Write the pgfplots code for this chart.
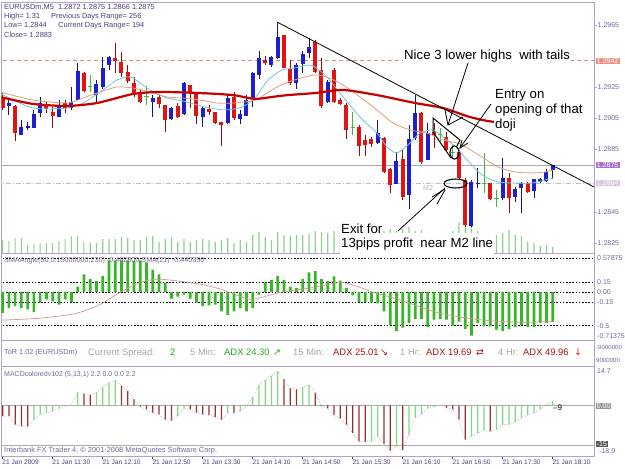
\documentclass[border=0pt]{standalone}
\usepackage{pgfplots}
\pgfplotsset{compat=1.18}
\usepackage{pgfplotstable}
\usepackage{fontspec}
\setmainfont{Liberation Sans}
\newfontfamily\symfont{DejaVu Sans}
\definecolor{bluec}{RGB}{30,30,205}
\definecolor{bluew}{RGB}{20,20,110}
\definecolor{redc}{RGB}{225,20,20}
\definecolor{redw}{RGB}{150,10,10}
\definecolor{dojic}{RGB}{60,185,60}
\definecolor{cyanc}{RGB}{110,200,215}
\definecolor{tanc}{RGB}{222,160,120}
\definecolor{maredc}{RGB}{200,0,0}
\definecolor{volc}{RGB}{140,210,140}
\definecolor{smac}{RGB}{55,180,40}
\definecolor{smaline}{RGB}{210,150,140}
\definecolor{macdg}{RGB}{130,215,130}
\definecolor{macdr}{RGB}{150,50,50}
\definecolor{framec}{RGB}{180,160,205}
\definecolor{labc}{RGB}{120,100,150}
\definecolor{infoc}{RGB}{80,60,120}
\definecolor{grayt}{RGB}{165,165,165}
\definecolor{adxg}{RGB}{30,170,30}
\definecolor{adxr}{RGB}{165,20,20}

\pgfplotstableread{
x o h l c
1 1.29130 1.29181 1.29072 1.29149
3 1.28944 1.29040 1.28944 1.28995
4 1.28989 1.29027 1.28976 1.29001
5 1.28989 1.29104 1.28989 1.29078
6 1.29085 1.29188 1.29059 1.29149
9 1.29059 1.29168 1.29059 1.29130
11 1.29117 1.29252 1.29104 1.29156
12 1.29168 1.29406 1.29168 1.29355
15 1.29201 1.29297 1.29156 1.29271
16 1.29252 1.29445 1.29239 1.29374
17 1.29393 1.29451 1.29361 1.29445
24 1.29156 1.29201 1.29059 1.29181
27 1.29046 1.29123 1.29040 1.29117
29 1.29078 1.29284 1.29072 1.29278
32 1.29059 1.29130 1.28995 1.29117
36 1.29021 1.29201 1.29014 1.29181
38 1.29046 1.29104 1.29014 1.29078
39 1.29066 1.29201 1.29066 1.29168
40 1.29175 1.29348 1.29123 1.29342
41 1.29329 1.29483 1.29303 1.29438
43 1.29393 1.29451 1.29380 1.29445
44 1.29438 1.29669 1.29432 1.29573
47 1.29278 1.29406 1.29239 1.29393
48 1.29400 1.29483 1.29342 1.29464
49 1.29470 1.29567 1.29438 1.29509
52 1.29156 1.29297 1.29149 1.29284
60 1.28892 1.29040 1.28886 1.28957
63 1.28629 1.28834 1.28629 1.28777
65 1.28558 1.29008 1.28468 1.28918
66 1.28924 1.29201 1.28912 1.29085
68 1.28783 1.29021 1.28783 1.28957
75 1.28359 1.28655 1.28353 1.28642
76 1.28629 1.28732 1.28603 1.28635
80 1.28539 1.28796 1.28526 1.28667
82 1.28545 1.28610 1.28513 1.28597
83 1.28603 1.28642 1.28443 1.28635
85 1.28584 1.28660 1.28539 1.28660
86 1.28642 1.28667 1.28635 1.28660
87 1.28648 1.28725 1.28642 1.28706
88 1.28720 1.28750 1.28660 1.28750
}\bull

\pgfplotstableread{
x o h l c
0 1.29188 1.29213 1.29104 1.29117
2 1.29130 1.29136 1.28905 1.28957
7 1.29143 1.29156 1.29085 1.29111
8 1.29091 1.29123 1.28989 1.29066
10 1.29149 1.29168 1.29085 1.29117
13 1.29342 1.29348 1.29220 1.29226
18 1.29438 1.29535 1.29342 1.29419
19 1.29412 1.29477 1.29316 1.29342
20 1.29348 1.29393 1.29278 1.29290
21 1.29278 1.29316 1.29188 1.29213
22 1.29213 1.29233 1.29149 1.29156
25 1.29188 1.29201 1.29117 1.29143
26 1.29136 1.29136 1.28963 1.29040
28 1.29130 1.29149 1.29053 1.29059
30 1.29265 1.29265 1.29117 1.29213
31 1.29207 1.29220 1.29014 1.29066
33 1.29111 1.29136 1.29072 1.29091
34 1.29091 1.29091 1.29014 1.29021
35 1.29027 1.29027 1.28873 1.29008
37 1.29188 1.29220 1.29040 1.29053
42 1.29425 1.29451 1.29393 1.29406
45 1.29586 1.29586 1.29374 1.29374
46 1.29367 1.29425 1.29265 1.29278
50 1.29541 1.29554 1.29342 1.29348
51 1.29361 1.29438 1.29117 1.29130
53 1.29361 1.29374 1.29149 1.29156
54 1.29168 1.29181 1.29136 1.29143
55 1.29136 1.29149 1.28918 1.28976
57 1.28995 1.29008 1.28809 1.28873
58 1.28912 1.28944 1.28809 1.28879
59 1.28918 1.28931 1.28867 1.28886
61 1.28924 1.28931 1.28700 1.28706
62 1.28725 1.28732 1.28571 1.28623
64 1.28790 1.28847 1.28526 1.28545
67 1.29085 1.29091 1.28757 1.28770
69 1.28963 1.29021 1.28860 1.28944
71 1.28931 1.28963 1.28834 1.28847
73 1.28834 1.28834 1.28655 1.28667
74 1.28655 1.28667 1.28353 1.28366
78 1.28635 1.28635 1.28526 1.28533
81 1.28667 1.28700 1.28443 1.28539
84 1.28635 1.28642 1.28571 1.28578
}\bear

\pgfplotstableread{
x o h l c
14 1.29258 1.29329 1.29220 1.29258
23 1.29194 1.29258 1.29136 1.29194
56 1.28989 1.29091 1.28944 1.28989
70 1.28944 1.28989 1.28899 1.28944
72 1.28834 1.28879 1.28802 1.28834
77 1.28635 1.28828 1.28571 1.28635
79 1.28539 1.28590 1.28481 1.28539
}\doji

\pgfplotstableread{
x v
0 13
1 12
2 15
3 15
4 8
5 9
6 10
7 10
8 10
9 12
10 14
11 17
12 17
13 11
14 10
15 10
16 14
17 14
18 14
19 16
20 15
21 13
22 13
23 16
24 17
25 11
26 14
27 16
28 11
29 14
30 11
31 13
32 14
33 13
34 11
35 13
36 15
37 10
38 13
39 11
40 18
41 21
42 16
43 13
44 21
45 18
46 17
47 18
48 18
49 19
50 22
51 21
52 20
53 22
54 21
55 22
56 20
57 21
58 20
59 19
60 20
61 22
62 24
63 22
64 24
65 26
66 22
67 23
68 20
69 19
70 18
71 19
72 22
73 31
74 31
75 31
76 22
77 20
78 19
79 18
80 20
81 23
82 18
83 17
84 11
85 10
86 7
87 8
88 6
}\vol

\pgfplotstableread{
x v
0 -0.31
1 -0.24
2 -0.21
3 -0.24
4 -0.26
5 -0.30
6 -0.16
7 -0.11
8 -0.14
9 -0.19
10 -0.11
11 -0.15
12 0.08
13 0.26
14 0.19
15 0.16
16 0.24
17 0.47
18 0.47
19 0.47
20 0.47
21 0.46
22 0.47
23 0.44
24 0.33
25 0.26
26 0.13
27 -0.10
28 -0.07
29 -0.04
30 -0.10
31 -0.16
32 -0.21
33 -0.20
34 -0.19
35 -0.29
36 -0.34
37 -0.29
38 -0.24
39 -0.29
40 -0.24
41 -0.04
42 0.14
43 0.18
44 0.24
45 0.18
46 0.08
47 0.06
48 0.19
49 0.29
50 0.31
51 0.19
52 0.16
53 0.23
54 0.17
55 0.06
56 -0.05
57 -0.15
58 -0.15
59 -0.16
60 -0.17
61 -0.29
62 -0.49
63 -0.58
64 -0.53
65 -0.46
66 -0.40
67 -0.40
68 -0.52
69 -0.41
70 -0.40
71 -0.41
72 -0.50
73 -0.44
74 -0.55
75 -0.65
76 -0.46
77 -0.51
78 -0.51
79 -0.56
80 -0.58
81 -0.55
82 -0.52
83 -0.49
84 -0.52
85 -0.52
86 -0.46
87 -0.46
88 -0.45
}\smaang

\pgfplotstableread{
x v
0 -4.0
1 -4.0
2 -7.2
3 -7.8
4 -7.8
5 -5.3
6 -3.4
7 -2.8
8 -2.1
9 -1.1
10 -0.3
11 0.2
12 4.8
13 4.4
14 3.9
15 4.8
16 6.9
17 8.5
18 9.4
19 7.3
20 5.4
21 2.3
22 -0.5
23 -1.5
24 -2.8
25 -3.4
26 -5.3
27 -5.7
28 -4.0
29 -1.1
30 -1.5
31 -2.8
32 -3.4
33 -3.6
34 -4.4
35 -5.3
36 -2.8
37 -2.9
38 -2.1
39 -0.3
40 3.1
41 7.7
42 9.4
43 11.1
44 12.7
45 9.8
46 6.4
47 6.0
48 6.7
49 7.7
50 4.8
51 -0.3
52 -1.1
53 -3.6
54 -4.9
55 -7.2
56 -10.3
57 -13.4
58 -13.5
59 -13.4
60 -11.6
61 -14.4
62 -17.0
63 -15.3
64 -16.7
65 -10.9
66 -4.6
67 -3.4
68 -1.1
69 -0.5
70 0.1
71 -0.9
72 -1.5
73 -5.3
74 -12.8
75 -11.6
76 -10.3
77 -9.4
78 -9.7
79 -9.0
80 -7.2
81 -7.1
82 -6.2
83 -4.6
84 -3.6
85 -2.8
86 -1.5
87 0.1
88 1.6
}\macd

\begin{document}
\begin{tikzpicture}
\useasboundingbox (0,0) rectangle (625pt,-469pt);
\pgfplotsset{
  panel/.style={at={(1.5pt,#1)}, anchor=north west, scale only axis, width=592.5pt,
    xmin=-0.192, xmax=94.608, axis line style={draw=framec, line width=0.8pt}},
  wick/.style={draw=none, mark=none, forget plot, error bars/.cd, y dir=minus, y explicit, error mark=none,
    error bar style={line width=0.9pt, draw=#1}},
  body/.style={draw=none, mark=none, forget plot, error bars/.cd, y dir=minus, y explicit, error mark=none,
    error bar style={line width=4pt, draw=#1}},
}
% ---------- volumes ----------
\begin{axis}[panel={-2pt}, height=251pt, ymin=0, ymax=251, hide axis]
\addplot[ybar, bar width=1.1pt, bar shift=0pt, fill=volc, draw=none] table[x=x,y=v] {\vol};
\end{axis}
% ---------- main price chart ----------
\begin{axis}[panel={-2pt}, height=251pt, ymin=1.281858, ymax=1.297977,
  xtick=\empty, scaled y ticks=false,
  ytick={1.2825,1.2845,1.2885,1.2905,1.2925,1.2965},
  ytick pos=right, yticklabel pos=right, tick align=outside, major tick length=2.5pt,
  tick style={draw=framec, line width=0.6pt},
  yticklabel style={font=\fontsize{7}{8}\selectfont, text=labc, inner sep=1pt,
    /pgf/number format/.cd, fixed, fixed zerofill, precision=4, assume math mode=true}]
\addplot[draw={rgb,255:red,200;green,150;blue,130}, dash pattern=on 4pt off 3pt, line width=0.7pt] coordinates {(-1,1.2942) (96,1.2942)};
\addplot[draw={rgb,255:red,170;green,170;blue,170}, line width=0.8pt] coordinates {(-1,1.2875) (96,1.2875)};
\addplot[draw={rgb,255:red,190;green,190;blue,190}, dash pattern=on 5pt off 2pt on 1pt off 2pt, line width=0.7pt] coordinates {(-1,1.28635) (96,1.28635)};
% wicks
\addplot[wick=bluew] table[x=x, y=h, y error minus expr=\thisrow{h}-\thisrow{l}] {\bull};
\addplot[wick=redw] table[x=x, y=h, y error minus expr=\thisrow{h}-\thisrow{l}] {\bear};
\addplot[wick=dojic] table[x=x, y=h, y error minus expr=\thisrow{h}-\thisrow{l}] {\doji};
% bodies
\addplot[body=bluec] table[x=x, y=c, y error minus expr=\thisrow{c}-\thisrow{o}] {\bull};
\addplot[body=redc] table[x=x, y=o, y error minus expr=\thisrow{o}-\thisrow{c}] {\bear};
\addplot[only marks, mark=-, mark size=2.2pt, dojic, mark options={line width=0.9pt}] table[x=x, y=o] {\doji};
% moving averages
\addplot[cyanc, line width=0.8pt, smooth, tension=0.4] coordinates {
(-0.43,1.29213) (2.29,1.29156) (4.85,1.29117) (7.57,1.29111) (10.29,1.29117) (12.85,1.29149)
(15.57,1.29220) (18.29,1.29297) (19.89,1.29316) (20.85,1.29310) (23.57,1.29233) (26.29,1.29181)
(28.85,1.29162) (32.37,1.29123) (35.57,1.29104) (38.29,1.29123) (40.37,1.29181) (42.45,1.29297)
(44.69,1.29361) (46.77,1.29374) (48.85,1.29393) (49.97,1.29380) (51.89,1.29316) (54.45,1.29188)
(57.17,1.29059) (59.89,1.28956) (61.49,1.28867) (63.09,1.28828) (65.17,1.28892) (66.77,1.28956)
(68.85,1.28976) (70.45,1.28931) (72.69,1.28860) (74.29,1.28783) (76.69,1.28687) (79.25,1.28642)
(81.97,1.28635) (84.69,1.28635) (86.77,1.28655) (88.05,1.28667)};
\addplot[tanc, line width=0.8pt, smooth, tension=0.4] coordinates {
(-0.43,1.29220) (4.85,1.29168) (10.29,1.29149) (12.85,1.29181) (15.57,1.29220) (18.29,1.29252)
(20.85,1.29245) (23.57,1.29220) (26.29,1.29188) (28.85,1.29181) (31.57,1.29168) (34.29,1.29149)
(36.85,1.29149) (40.37,1.29168) (43.57,1.29245) (45.65,1.29284) (48.37,1.29316) (49.97,1.29329)
(51.89,1.29316) (54.45,1.29265) (57.17,1.29188) (59.89,1.29104) (62.45,1.29021) (65.17,1.28976)
(67.89,1.28956) (70.45,1.28911) (73.17,1.28886) (76.69,1.28802) (79.25,1.28738) (81.97,1.28706)
(84.69,1.28700) (86.77,1.28706) (88.05,1.28719)};
\addplot[maredc, line width=2.2pt, smooth, tension=0.4] coordinates {
(-0.43,1.29188) (4.85,1.29143) (10.29,1.29130) (15.09,1.29149) (20.85,1.29207) (25.17,1.29220)
(31.57,1.29213) (36.85,1.29200) (40.37,1.29175) (43.09,1.29188) (45.65,1.29200) (49.97,1.29213)
(54.45,1.29233) (59.89,1.29200) (65.97,1.29149) (70.45,1.29117) (74.77,1.29059) (78.77,1.29027)
(88.05,1.29001)};
\end{axis}
% ---------- SMAAngle panel ----------
\begin{axis}[panel={-253pt}, height=87pt, ymin=-0.71375, ymax=0.57875, xtick=\empty, ytick=\empty]
\foreach \lv in {0.5,0.15,0,-0.15,-0.5}{
  \edef\tmp{\noexpand\addplot[black, dash pattern=on 1.6pt off 1.6pt, line width=0.6pt] coordinates {(-1,\lv) (96,\lv)};}\tmp}
\addplot[ybar, bar width=2.6pt, bar shift=0pt, fill=smac, draw=none] table[x=x,y=v] {\smaang};
\addplot[smaline, line width=0.7pt, smooth, tension=0.4] coordinates {
(-0.43,-0.42) (5.94,-0.39) (11.68,-0.32) (15.5,-0.19) (18.7,-0.01) (21.9,0.14) (25.1,0.19)
(31.4,0.12) (35.3,0.03) (39.7,-0.11) (44.2,-0.01) (49.3,0.06) (54.4,0.14) (59.5,-0.01)
(63.3,-0.11) (69.7,-0.31) (76.1,-0.41) (82.4,-0.45) (88,-0.44)};
\end{axis}
% ---------- ToR panel ----------
\begin{axis}[panel={-340pt}, height=26pt, ymin=0, ymax=1, xtick=\empty, ytick=\empty]
\end{axis}
% ---------- MACD panel ----------
\begin{axis}[panel={-366pt}, height=90pt, ymin=-18.9, ymax=14.7, ytick=\empty,
  xtick={0,8,...,88},
  xticklabels={21 Jan 2009,21 Jan 11:30,21 Jan 12:10,21 Jan 12:50,21 Jan 13:30,21 Jan 14:10,21 Jan 14:50,21 Jan 15:30,21 Jan 16:10,21 Jan 16:50,21 Jan 17:30,21 Jan 18:10},
  xtick pos=bottom, tick align=outside, major tick length=2.5pt, tick style={draw=infoc, line width=0.5pt},
  xticklabel style={font=\fontsize{6.6}{7}\selectfont, text=infoc, anchor=north west, xshift=-1.2pt, inner sep=0.8pt}]
\addplot[draw={rgb,255:red,170;green,170;blue,170}, line width=0.9pt] coordinates {(-1,0) (96,0)};
\addplot[draw={rgb,255:red,170;green,170;blue,170}, line width=0.9pt] coordinates {(-1,-15) (96,-15)};
\addplot[ybar, bar width=1.2pt, bar shift=0pt, fill=macdg, draw=none] table[x=x,y=v] {
x v
5 -5.3
6 -3.4
7 -2.8
8 -2.1
9 -1.1
10 -0.3
11 0.2
12 4.8
15 4.8
16 6.9
17 8.5
18 9.4
28 -4.0
29 -1.1
36 -2.8
38 -2.1
39 -0.3
40 3.1
41 7.7
42 9.4
43 11.1
44 12.7
48 6.7
49 7.7
59 -13.4
60 -11.6
63 -15.3
65 -10.9
66 -4.6
67 -3.4
68 -1.1
69 -0.5
70 0.1
75 -11.6
76 -10.3
77 -9.4
79 -9.0
80 -7.2
81 -7.1
82 -6.2
83 -4.6
84 -3.6
85 -2.8
86 -1.5
87 0.1
88 1.6
};
\addplot[ybar, bar width=1.2pt, bar shift=0pt, fill=macdr, draw=none] table[x=x,y=v] {
x v
0 -4.0
1 -4.0
2 -7.2
3 -7.8
4 -7.8
13 4.4
14 3.9
19 7.3
20 5.4
21 2.3
22 -0.5
23 -1.5
24 -2.8
25 -3.4
26 -5.3
27 -5.7
30 -1.5
31 -2.8
32 -3.4
33 -3.6
34 -4.4
35 -5.3
37 -2.9
45 9.8
46 6.4
47 6.0
50 4.8
51 -0.3
52 -1.1
53 -3.6
54 -4.9
55 -7.2
56 -10.3
57 -13.4
58 -13.5
61 -14.4
62 -17.0
64 -16.7
71 -0.9
72 -1.5
73 -5.3
74 -12.8
78 -9.7
};
\addplot[draw={rgb,255:red,175;green,175;blue,175}, dash pattern=on 1pt off 1.5pt, line width=0.6pt] table[x=x,y=v] {\macd};
\end{axis}
% ---------- overlay in pixel coordinates ----------
\begin{axis}[at={(0pt,0pt)}, anchor=north west, scale only axis, width=625pt, height=469pt,
  xmin=0, xmax=625, ymin=0, ymax=469, y dir=reverse, hide axis, clip=false]
\addplot[black, line width=0.8pt] coordinates {(277,22) (594,187)};
\addplot[black, line width=1pt] coordinates {(457,146) (460,140) (433,118) (433,132) (451,158)};
\addplot[black, line width=0.8pt] coordinates {(468,63) (448,125)};
\addplot[black, line width=0.8pt] coordinates {(445,110) (448,125) (463,117)};
\addplot[black, line width=0.8pt] coordinates {(491,104) (460,148)};
\addplot[black, line width=0.8pt] coordinates {(468,143) (460,148) (462,140)};
\addplot[black, line width=0.8pt] coordinates {(398,231) (445,188)};
\addplot[black, line width=0.8pt] coordinates {(432,197) (445,189)};
\addplot[black, line width=0.8pt] coordinates {(437,204) (445,190)};
\draw[line width=1.1pt] (axis cs:454.5,152.5) ellipse [x radius=4.5pt, y radius=6.5pt];
\draw[line width=1.1pt] (axis cs:455.5,183.5) ellipse [x radius=11.5pt, y radius=4.5pt];
% annotations
\tikzset{ann/.style={font=\fontsize{13.2}{15}\selectfont, text=black, fill=white, inner sep=1pt}}
\node[ann, anchor=base west] at (axis cs:403,59.7) {Nice 3 lower highs\ \ with tails};
\node[ann, anchor=north west, align=left] at (axis cs:494,88) {Entry on\\opening of that\\doji};
\node[ann, anchor=base west, inner ysep=3pt, text height=12pt, text depth=2.8pt] at (axis cs:340,247.7) {13pips profit\ \ near M2 line};
\node[ann, anchor=base west] at (axis cs:340,233.7) {Exit for};
\node[anchor=base west, font=\fontsize{7}{8}\selectfont, text={rgb,255:red,180;green,180;blue,180}, inner sep=0pt] at (axis cs:423,190.5) {M2};
% info text
\tikzset{info/.style={anchor=base west, font=\fontsize{7.4}{8}\selectfont, text=infoc, inner sep=0pt}}
\node[info] at (axis cs:4,9.7) {EURUSDm,M5\ \ 1.2872 1.2875 1.2866 1.2875};
\node[info] at (axis cs:4,18.7) {High= 1.31};
\node[info] at (axis cs:51,18.7) {Previous Days Range= 256};
\node[info] at (axis cs:4,27.7) {Low= 1.2844};
\node[info] at (axis cs:58,27.7) {Current Days Range= 194};
\node[info] at (axis cs:4,37) {Close= 1.2883};
% price boxes
\tikzset{pbox/.style={anchor=west, font=\fontsize{7}{8}\selectfont, text=white, inner xsep=1.2pt, inner ysep=0.8pt}}
\node[pbox, fill={rgb,255:red,235;green,145;blue,130}] at (axis cs:595.5,61) {1.2942};
\node[pbox, fill={rgb,255:red,175;green,110;blue,205}] at (axis cs:595.5,165) {1.2875};
\node[pbox, fill={rgb,255:red,218;green,198;blue,225}] at (axis cs:595.5,183) {1.2864};
% right labels of indicator panels
\tikzset{rl/.style={anchor=west, font=\fontsize{7}{8}\selectfont, text=labc, inner sep=0pt}}
\node[rl] at (axis cs:597,258) {0.57875};
\node[rl] at (axis cs:597,282) {0.15};
\node[rl] at (axis cs:597,292) {0.00};
\node[rl] at (axis cs:597,302) {-0.15};
\node[rl] at (axis cs:597,326) {-0.5};
\node[rl] at (axis cs:597,336) {-0.71375};
\node[rl, font=\fontsize{6.1}{7}\selectfont] at (axis cs:596,347) {-9000000};
\node[rl, font=\fontsize{6.1}{7}\selectfont] at (axis cs:596,360) {9000000};
\node[rl] at (axis cs:597,371) {14.7};
\node[rl, fill={rgb,255:red,150;green,150;blue,150}, text=white, inner sep=0.6pt] at (axis cs:596,406) {0.00};
\node[rl, fill={rgb,255:red,90;green,90;blue,90}, text=white, inner sep=0.6pt] at (axis cs:596,444) {-15};
\node[rl] at (axis cs:599,451) {-18.9};
% panel labels
\node[anchor=base west, font=\fontsize{7.2}{8}\selectfont, text=labc, inner sep=0pt] at (axis cs:4,262.5) {SMAAngle(50,0.15000000,230) -0.462800 SMA(21) -0.440350};
\node[anchor=base west, font=\fontsize{7}{8}\selectfont, text=labc, inner sep=0pt] at (axis cs:4,376.5) {MACDcoloredv102 (5,13,1) 2.2 0.0 0.0 2.2};
\node[anchor=base west, font=\fontsize{7.4}{8}\selectfont, text=labc, inner sep=0pt] at (axis cs:4,452) {Interbank FX Trader 4, \textcopyright{} 2001-2008 MetaQuotes Software Corp.};
\node[anchor=base west, font=\fontsize{8}{9}\selectfont, text=black, inner sep=0pt] at (axis cs:553,410) {--9};
% ToR line
\tikzset{tor/.style={anchor=base west, font=\fontsize{9.4}{10}\selectfont, inner sep=0pt}}
\node[anchor=base west, font=\fontsize{7.3}{8}\selectfont, text=labc, inner sep=0pt] at (axis cs:4,354.5) {ToR 1.02 (EURUSDm)};
\node[tor, text=grayt] at (axis cs:88,355) {Current Spread:};
\node[tor, text=adxg] at (axis cs:170,355) {2};
\node[tor, text=grayt] at (axis cs:190,355) {5 Min:};
\node[tor, text=adxg] at (axis cs:224,355) {ADX 24.30};
\node[tor, text=adxg] at (axis cs:273,355) {\symfont ↗};
\node[tor, text=grayt] at (axis cs:293,355) {15 Min:};
\node[tor, text=adxr] at (axis cs:333,355) {ADX 25.01};
\node[tor, text=adxr] at (axis cs:380,355) {\symfont ↘};
\node[tor, text=grayt] at (axis cs:400,355) {1 Hr:};
\node[tor, text=adxr] at (axis cs:426,355) {ADX 19.69};
\node[tor, text=adxr] at (axis cs:476,355) {\symfont ⇄};
\node[tor, text=grayt] at (axis cs:498,355) {4 Hr:};
\node[tor, text=adxr] at (axis cs:523,355) {ADX 49.96};
\node[tor, text={rgb,255:red,220;green,30;blue,30}] at (axis cs:574,355) {\symfont ↓};
\end{axis}
\end{tikzpicture}
\end{document}
